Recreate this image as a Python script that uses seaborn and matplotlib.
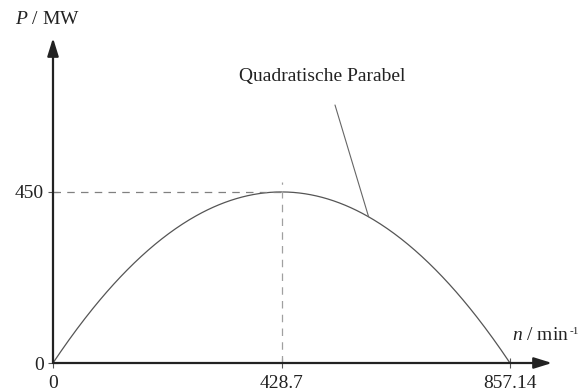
import numpy as np
import pandas as pd
import matplotlib
matplotlib.use("Agg")
import matplotlib.pyplot as plt
import seaborn as sns

# Key operating points of the power curve
n_points = [0.0, 428.7, 857.14]      # speed n in 1/min
p_points = [0.0, 450.0, 0.0]         # power P in MW
x_tick_labels = ["0", "428.7", "857.14"]
y_tick_labels = ["0", "450"]
curve_label = "Quadratische Parabel"

sns.set_theme(style="white")
plt.rcParams["font.family"] = ["Liberation Serif", "DejaVu Serif"]
plt.rcParams["mathtext.fontset"] = "custom"
plt.rcParams["mathtext.it"] = "Liberation Serif:italic"
plt.rcParams["mathtext.rm"] = "Liberation Serif"

# Parabola through the three key points
coef = np.polyfit(n_points, p_points, 2)
n_curve = np.linspace(n_points[0], n_points[-1], 400)
df = pd.DataFrame({"n": n_curve, "P": np.polyval(coef, n_curve)})

W, H = 585, 392
fig = plt.figure(figsize=(W / 100, H / 100), dpi=100)
x0, y0 = 53, 363          # origin in pixels
x1, y1 = 552, 38          # arrow tips in pixels
ax = fig.add_axes([x0 / W, (H - y0) / H, (x1 - x0) / W, (y0 - y1) / H])
ax.set_xlim(0, 936)
ax.set_ylim(0, 855)
for s in ax.spines.values():
    s.set_visible(False)
ax.patch.set_alpha(0)

sns.lineplot(data=df, x="n", y="P", ax=ax, color="#555555", lw=0.9, clip_on=False)

# Guide lines to the maximum
ax.plot([0, n_points[1]], [p_points[1], p_points[1]], ls=(0, (6, 5)), color="#808080", lw=0.9)
ax.plot([n_points[1], n_points[1]], [0, 476], ls=(0, (6, 5)), color="#a0a0a0", lw=0.9)

# Axes with arrow heads
arrow = dict(arrowstyle="-|>,head_length=0.9,head_width=0.28", color="#222222", lw=1.6,
             shrinkA=0, shrinkB=0)
ax.annotate("", xy=(1, 0), xytext=(0, 0), xycoords="axes fraction", arrowprops=arrow)
ax.annotate("", xy=(0, 1), xytext=(0, 0), xycoords="axes fraction", arrowprops=arrow)

ax.set_xticks(n_points, x_tick_labels)
ax.set_yticks([0, 450], y_tick_labels)
ax.tick_params(axis="both", direction="inout", length=7, width=0.8, color="#555555",
               labelsize=14, labelcolor="#222222")
ax.tick_params(axis="x", pad=5, bottom=True)
ax.tick_params(axis="y", pad=3, left=True)
ax.set_xlabel("")
ax.set_ylabel("")

# Axis titles
fig.text(15 / W, 1 - 19 / H, r"$P$ / MW", fontsize=14, color="#222222", va="center", ha="left")
xt = fig.text(512 / W, 1 - 335 / H, r"$n$ / min", fontsize=14, color="#222222",
              va="center", ha="left")
fig.canvas.draw()
bb = xt.get_window_extent()
fig.text((bb.x1 + 0.5) / W, (bb.y1 - 1) / H, "-1", fontsize=8, color="#222222",
         va="top", ha="left")

# Curve label with leader line
fig.text(322 / W, 1 - 76 / H, curve_label, fontsize=14, color="#222222", ha="center", va="center")
n_lead = 592
ax.annotate("", xy=(n_lead, np.polyval(coef, n_lead)), xycoords="data",
            xytext=(335, H - 105), textcoords="figure pixels",
            arrowprops=dict(arrowstyle="-", color="#666666", lw=0.8, shrinkA=0, shrinkB=0))

fig.savefig("out.png", dpi=100)
